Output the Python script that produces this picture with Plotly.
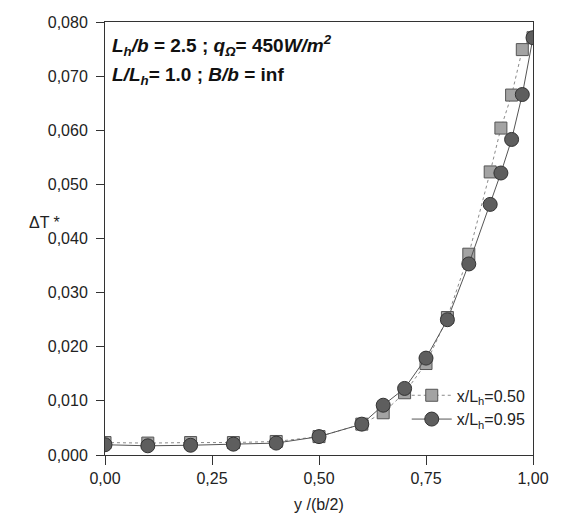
import plotly.graph_objects as go

y_pos = [0.0, 0.1, 0.2, 0.3, 0.4, 0.5, 0.6, 0.65, 0.7, 0.75, 0.8, 0.85, 0.9, 0.925, 0.95, 0.975, 1.0]
dT_050 = [0.0023, 0.0022, 0.0023, 0.0023, 0.0025, 0.0034, 0.0057, 0.0078, 0.0115, 0.0169, 0.0254, 0.0371, 0.0523, 0.0604, 0.0665, 0.0749, 0.0771]
dT_095 = [0.0019, 0.0017, 0.0018, 0.0020, 0.0022, 0.0034, 0.0057, 0.0092, 0.0123, 0.0179, 0.0250, 0.0353, 0.0463, 0.0521, 0.0583, 0.0666, 0.0771]

x_tickvals = [0, 0.25, 0.5, 0.75, 1.0]
x_ticktext = ["0,00", "0,25", "0,50", "0,75", "1,00"]
y_tickvals = [0, 0.01, 0.02, 0.03, 0.04, 0.05, 0.06, 0.07, 0.08]
y_ticktext = ["0,000", "0,010", "0,020", "0,030", "0,040", "0,050", "0,060", "0,070", "0,080"]

fig = go.Figure()
fig.add_trace(go.Scatter(
    x=y_pos, y=dT_050, mode="lines+markers", name="x/L<sub>h</sub>=0.50",
    line=dict(color="#8a8a8a", width=1, dash="dot"),
    marker=dict(symbol="square", size=12, color="#a3a3a3", line=dict(color="#555555", width=1)),
))
fig.add_trace(go.Scatter(
    x=y_pos, y=dT_095, mode="lines+markers", name="x/L<sub>h</sub>=0.95",
    line=dict(color="#555555", width=1),
    marker=dict(symbol="circle", size=14, color="#5e5e5e", line=dict(color="#333333", width=1)),
))

font_family = "Liberation Sans, Arial, sans-serif"

fig.update_layout(
    width=561, height=518,
    margin=dict(l=105, r=22, t=22, b=63),
    plot_bgcolor="white", paper_bgcolor="white",
    font=dict(family=font_family, size=16, color="#222222"),
    showlegend=True,
    legend=dict(x=0.705, y=0.11, xanchor="left", yanchor="middle",
                bgcolor="rgba(0,0,0,0)", font=dict(size=16, color="#222222"),
                tracegroupgap=0, itemwidth=40),
    xaxis=dict(range=[0, 1.0], tickvals=x_tickvals, ticktext=x_ticktext,
               showgrid=False, zeroline=False, showline=True, linecolor="#333333", linewidth=1,
               mirror=True, ticks="outside", ticklen=9, tickcolor="#333333",
               tickfont=dict(size=16)),
    yaxis=dict(range=[0, 0.080], tickvals=y_tickvals, ticktext=y_ticktext,
               showgrid=False, zeroline=False, showline=True, linecolor="#333333", linewidth=1,
               mirror=True, ticks="outside", ticklen=8, tickcolor="#333333",
               ticklabelstandoff=5, tickfont=dict(size=16)),
)

fig.add_annotation(
    xref="paper", yref="paper", x=0.012, y=0.945, xanchor="left", yanchor="middle",
    text="<b><i>L<sub>h</sub>/b</i> = 2.5 ; <i>q<sub>Ω</sub></i>= 450<i>W/m<sup>2</sup></i></b>",
    showarrow=False, font=dict(size=19, color="#111111"), align="left",
)
fig.add_annotation(
    xref="paper", yref="paper", x=0.012, y=0.875, xanchor="left", yanchor="middle",
    text="<b><i>L/L<sub>h</sub></i>= 1.0 ; <i>B/b</i> = inf</b>",
    showarrow=False, font=dict(size=19, color="#111111"), align="left",
)
fig.add_annotation(
    xref="paper", yref="paper", x=-0.10, y=0.538, xanchor="right", yanchor="middle",
    text="ΔT *", showarrow=False, font=dict(size=16, color="#222222"),
)
fig.add_annotation(
    xref="paper", yref="paper", x=0.5, y=-0.115, xanchor="center", yanchor="middle",
    text="y /(b/2)", showarrow=False, font=dict(size=16, color="#222222"),
)

fig.write_html("out.html")
